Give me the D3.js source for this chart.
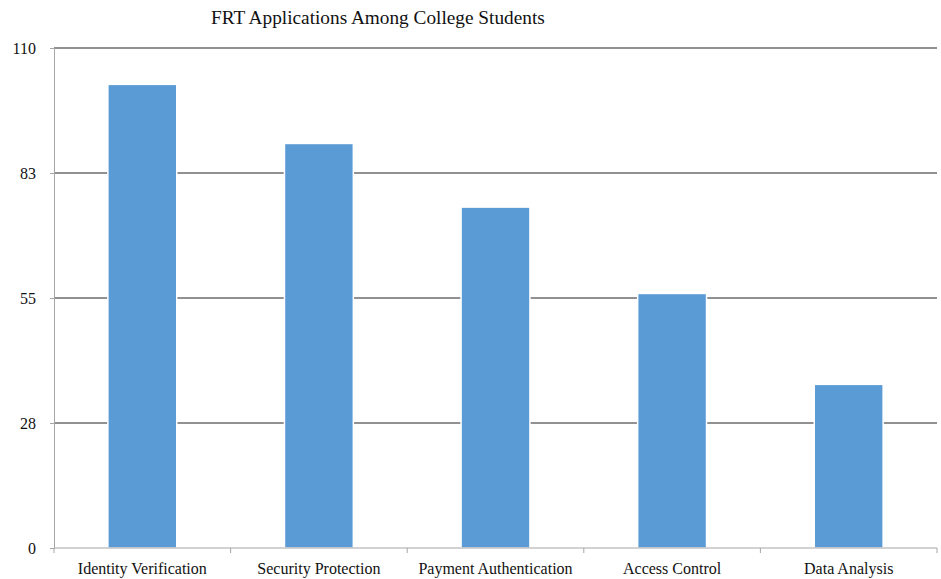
<!DOCTYPE html>
<html>
<head>
<meta charset="utf-8">
<script src="https://cdn.jsdelivr.net/npm/d3@7"></script>
<style>
  html, body { margin: 0; padding: 0; background: #fff; }
  svg { display: block; }
  svg text { font-family: "Liberation Serif", "Times New Roman", serif; }
</style>
</head>
<body>
<svg id="chart" width="941" height="579"></svg>
<script>
// Data
const categories = ["Identity Verification", "Security Protection", "Payment Authentication", "Access Control", "Data Analysis"];
const values = [102, 89, 75, 56, 36];
const tickValues = [0, 27.5, 55, 82.5, 110];
const tickLabels = ["0", "28", "55", "83", "110"];
const title = "FRT Applications Among College Students";

const serif = "Liberation Serif, Times New Roman, serif";
const svg = d3.select("#chart");
const margin = { left: 54, right: 4, top: 48, bottom: 31 };
const W = 941, H = 579;
const x0 = margin.left, x1 = W - margin.right;
const y0 = H - margin.bottom, y1 = margin.top;

const x = d3.scaleBand().domain(categories).range([x0, x1])
  .paddingInner(0.61).paddingOuter(0.305);
const y = d3.scaleLinear().domain([0, 110]).range([y0, y1]);

// Title
svg.append("text")
  .attr("x", 211).attr("y", 24)
  .attr("font-family", serif)
  .attr("font-size", 19.3).attr("fill", "#111")
  .text(title);

// Horizontal gridlines
svg.append("g").selectAll("line")
  .data(tickValues.filter(v => v > 0))
  .join("line")
  .attr("x1", x0).attr("x2", x1)
  .attr("y1", d => y(d)).attr("y2", d => y(d))
  .attr("stroke", "#919191").attr("stroke-width", 2.2);

// Y axis
const yAxis = d3.axisLeft(y).tickValues(tickValues)
  .tickFormat((d, i) => tickLabels[i]).tickSize(4).tickPadding(14);
const gy = svg.append("g").attr("transform", `translate(${x0},0)`).call(yAxis)
  .attr("font-family", serif);
gy.select(".domain").attr("stroke", "#a6a6a6").attr("stroke-width", 1);
gy.selectAll(".tick line").attr("stroke", "#a6a6a6");
gy.selectAll(".tick text").attr("font-size", 16).attr("fill", "#111")
  .attr("font-family", serif);

// Bars
svg.append("g").selectAll("rect")
  .data(categories)
  .join("rect")
  .attr("x", d => x(d))
  .attr("width", x.bandwidth())
  .attr("y", (d, i) => y(values[i]))
  .attr("height", (d, i) => y0 - y(values[i]))
  .attr("fill", "#5b9bd5")
  .attr("stroke", "#ffffff").attr("stroke-width", 1.5);

// X axis with boundary ticks between categories
svg.append("line")
  .attr("x1", x0).attr("x2", x1).attr("y1", y0).attr("y2", y0)
  .attr("stroke", "#a6a6a6").attr("stroke-width", 1.2);
const boundaries = d3.range(categories.length + 1).map(i => x0 + i * x.step());
svg.append("g").selectAll("line")
  .data(boundaries)
  .join("line")
  .attr("x1", d => d).attr("x2", d => d)
  .attr("y1", y0).attr("y2", y0 + 5)
  .attr("stroke", "#a6a6a6");

svg.append("g").selectAll("text")
  .data(categories)
  .join("text")
  .attr("x", d => x(d) + x.bandwidth() / 2)
  .attr("y", 574)
  .attr("text-anchor", "middle")
  .attr("font-family", serif)
  .attr("font-size", 16).attr("fill", "#111")
  .text(d => d);
</script>
</body>
</html>
